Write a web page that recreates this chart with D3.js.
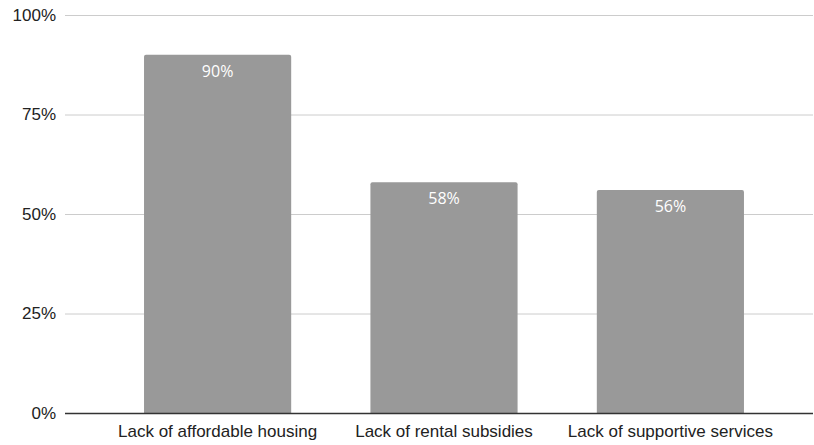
<!DOCTYPE html>
<html><head><meta charset="utf-8">
<script src="https://cdn.jsdelivr.net/npm/d3@7"></script>
<style>body{margin:0;background:#fff}svg{display:block}</style>
</head><body><svg id="c" width="814" height="445"></svg>
<script>
const categories = ["Lack of affordable housing", "Lack of rental subsidies", "Lack of supportive services"];
const values = [90, 58, 56];
const yTicks = [0, 25, 50, 75, 100];
const tickLabels = ["0%", "25%", "50%", "75%", "100%"];

const svg = d3.select("#c");
const x = d3.scaleBand().domain(categories).range([70, 818]).paddingInner(0.35).paddingOuter(0.327);
const y = d3.scaleLinear().domain([0, 100]).range([413, 15]);

// gridlines
svg.append("g").selectAll("line").data(yTicks.slice(1)).join("line")
  .attr("x1", 65).attr("x2", 813)
  .attr("y1", d => y(d) + 0.5).attr("y2", d => y(d) + 0.5)
  .attr("stroke", "#cccccc").attr("stroke-width", 1);

// y tick labels
svg.append("g").selectAll("text").data(yTicks).join("text")
  .attr("x", 56).attr("y", d => y(d)).attr("dy", "0.35em")
  .attr("text-anchor", "end")
  .attr("font-family", "Liberation Sans, Arial, sans-serif").attr("font-size", 17)
  .attr("fill", "#222").text((d, i) => tickLabels[i]);

// bars with rounded top corners
const r = 2;
svg.append("g").selectAll("path").data(values).join("path")
  .attr("d", (d, i) => {
    const x0 = x(categories[i]), w = x.bandwidth(), y0 = y(d), yb = y(0);
    return `M${x0},${yb}V${y0 + r}Q${x0},${y0} ${x0 + r},${y0}H${x0 + w - r}Q${x0 + w},${y0} ${x0 + w},${y0 + r}V${yb}Z`;
  })
  .attr("fill", "#999999");

// value labels
svg.append("g").selectAll("text").data(values).join("text")
  .attr("x", (d, i) => x(categories[i]) + x.bandwidth() / 2)
  .attr("y", d => y(d) + 22)
  .attr("text-anchor", "middle")
  .attr("font-family", "Open Sans, sans-serif").attr("font-size", 16)
  .attr("fill", "#ffffff").text(d => d + "%");

// baseline
svg.append("line").attr("x1", 65).attr("x2", 813).attr("y1", y(0) + 0.5).attr("y2", y(0) + 0.5)
  .attr("stroke", "#333").attr("stroke-width", 1.3);

// category labels
svg.append("g").selectAll("text").data(categories).join("text")
  .attr("x", d => x(d) + x.bandwidth() / 2).attr("y", 437)
  .attr("text-anchor", "middle")
  .attr("font-family", "Liberation Sans, Arial, sans-serif").attr("font-size", 17)
  .attr("fill", "#222").text(d => d);
</script></body></html>
